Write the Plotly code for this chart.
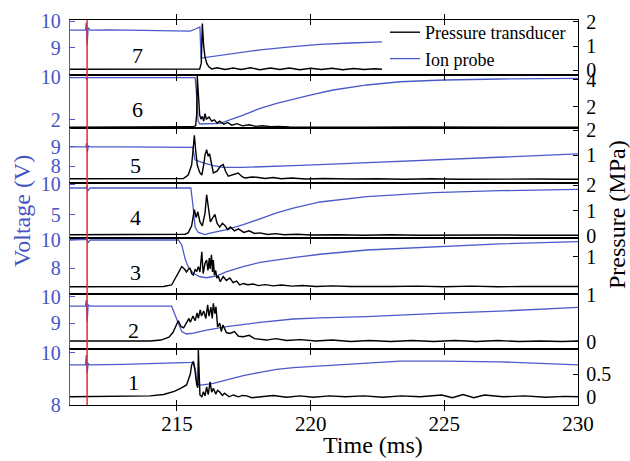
import plotly.graph_objects as go
from plotly.subplots import make_subplots

# ---------------- data ----------------
trigger_time = 211.64
panel_labels = ["7", "6", "5", "4", "3", "2", "1"]

# panel 7
t_v7 = [211.0, 211.58, 211.61, 211.64, 211.68, 211.75, 212.5, 213.5, 214.5, 215.3, 215.5, 215.67, 215.86, 215.9,
        215.97, 216.11, 216.86, 218.11, 219.34, 220.35, 221.5, 222.67]
v7 = [9.66, 9.66, 9.93, 9.1, 9.75, 9.66, 9.67, 9.66, 9.65, 9.62, 9.62, 9.69, 9.78, 8.6,
      8.61, 8.62, 8.74, 8.91, 9.03, 9.12, 9.17, 9.21]
t_p7 = [211.0, 212.0, 213.0, 214.0, 215.0, 215.85, 215.91, 215.95, 216.0, 216.05, 216.12, 216.2, 216.3, 216.5,
        216.8, 217.1, 217.4, 217.75, 218.1, 218.5, 218.85, 219.2, 219.6, 220.0, 220.4, 220.8, 221.2, 221.6,
        222.0, 222.4, 222.67]
p7 = [0.05, 0.05, 0.06, 0.05, 0.05, 0.06, 0.3, 1.93, 1.0, 0.55, 0.28, 0.14, 0.06, 0.11,
      0.04, 0.1, 0.04, 0.11, 0.03, 0.1, 0.04, 0.1, 0.03, 0.09, 0.04, 0.09, 0.03, 0.08,
      0.04, 0.07, 0.05]

# panel 6
t_v6 = [211.0, 211.6, 211.63, 211.67, 211.75, 213.0, 214.5, 215.68, 215.75, 215.79, 215.86, 216.05, 216.61,
        217.48, 218.11, 218.73, 219.35, 219.98, 220.84, 222.11, 223.34, 224.99, 227.08, 230.0]
v6 = [9.93, 9.93, 9.5, 9.95, 9.93, 9.93, 9.92, 9.92, 5.75, 1.81, 1.25, 1.25, 1.38,
      2.93, 4.19, 5.13, 5.93, 6.68, 7.62, 8.56, 9.17, 9.49, 9.68, 9.81]
t_p6 = [211.0, 213.0, 215.0, 215.6, 215.7, 215.74, 215.76, 215.8, 215.85, 215.9, 215.95, 216.0, 216.05, 216.1,
        216.2, 216.3, 216.4, 216.5, 216.6, 216.75, 216.9, 217.05, 217.25, 217.45, 217.7, 217.95, 218.2, 218.5,
        218.8, 219.2, 220.0, 222.0, 224.0, 226.0, 228.0, 230.0]
p6 = [0.5, 0.5, 0.51, 0.53, 0.62, 1.5, 4.3, 2.5, 1.4, 1.1, 1.3, 0.95, 1.5, 1.1,
      1.25, 0.95, 1.05, 0.8, 0.95, 0.72, 0.85, 0.65, 0.76, 0.6, 0.68, 0.56, 0.61, 0.53,
      0.56, 0.51, 0.52, 0.5, 0.51, 0.5, 0.51, 0.5]

# panel 5
t_v5 = [211.0, 211.59, 211.62, 211.65, 211.69, 211.75, 213.0, 214.5, 215.6, 215.67, 215.99, 216.36, 216.73,
        217.47, 218.1, 218.73, 219.35, 220.35, 222.1, 224.58, 227.08, 230.0]
v5 = [9.0, 9.0, 9.2, 8.75, 9.05, 9.0, 9.0, 8.99, 8.98, 8.34, 8.18, 8.04, 7.95,
      7.95, 7.97, 8.01, 8.04, 8.09, 8.19, 8.33, 8.47, 8.64]
t_p5 = [211.0, 213.0, 214.5, 215.0, 215.24, 215.42, 215.55, 215.61, 215.65, 215.7, 215.76, 215.85, 215.93,
        216.0, 216.05, 216.11, 216.17, 216.22, 216.3, 216.36, 216.5, 216.62, 216.73, 216.82, 216.92, 217.1,
        217.29, 217.45, 217.55, 217.8, 217.98, 218.3, 218.6, 218.9, 219.3, 219.8, 220.5, 221.5, 222.5, 223.5,
        224.5, 225.5, 226.5, 227.5, 228.5, 229.5, 230.0]
p5 = [0.05, 0.05, 0.05, 0.05, 0.06, 0.2, 0.6, 1.28, 1.79, 1.2, 0.6, 0.3, 0.2,
      0.6, 1.0, 1.21, 0.95, 1.05, 0.55, 0.28, 0.35, 0.55, 0.62, 0.35, 0.15, 0.2,
      0.28, 0.12, 0.08, 0.12, 0.11, 0.06, 0.1, 0.05, 0.08, 0.04, 0.06, 0.04, 0.05, 0.03,
      0.05, 0.03, 0.04, 0.03, 0.04, 0.03, 0.03]

# panel 4
t_v4 = [211.0, 211.6, 211.63, 211.67, 211.75, 213.0, 215.0, 215.52, 215.6, 215.68, 215.8, 216.05, 216.24,
        216.86, 217.48, 218.11, 218.73, 219.35, 220.35, 222.1, 224.59, 227.08, 230.0]
v4 = [9.39, 9.39, 9.7, 8.9, 9.39, 9.39, 9.39, 9.39, 6.5, 3.0, 2.15, 1.82, 2.06,
      2.6, 3.41, 4.39, 5.32, 6.13, 7.11, 7.97, 8.62, 8.95, 9.17]
t_p4 = [211.0, 213.0, 215.0, 215.3, 215.42, 215.55, 215.65, 215.72, 215.78, 215.86, 215.95, 216.05, 216.11,
        216.18, 216.25, 216.33, 216.42, 216.5, 216.6, 216.7, 216.8, 216.9, 217.0, 217.15, 217.3, 217.5,
        217.7, 217.9, 218.1, 218.4, 218.7, 219.0, 219.5, 220.0, 221.0, 222.0, 223.0, 224.0, 225.0, 226.0,
        227.0, 228.0, 229.0, 230.0]
p4 = [0.05, 0.05, 0.05, 0.07, 0.12, 0.4, 1.03, 0.72, 0.95, 0.55, 0.4, 0.9, 1.62,
      1.0, 0.55, 0.7, 0.85, 0.5, 0.35, 0.5, 0.4, 0.25, 0.35, 0.2, 0.28, 0.14,
      0.2, 0.1, 0.12, 0.06, 0.09, 0.05, 0.07, 0.04, 0.05, 0.03, 0.05, 0.03, 0.04, 0.03,
      0.04, 0.03, 0.04, 0.03]

# panel 3
t_v3 = [211.0, 211.6, 211.63, 211.67, 211.75, 213.0, 215.05, 215.18, 215.3, 215.42, 215.61, 215.86, 216.11,
        216.49, 216.86, 217.48, 218.11, 219.35, 220.35, 222.1, 224.59, 227.08, 230.0]
v3 = [10.0, 10.0, 10.05, 9.8, 10.0, 10.0, 10.0, 9.65, 8.7, 8.11, 7.64, 7.4, 7.33,
      7.47, 7.76, 8.11, 8.42, 8.75, 8.99, 9.29, 9.52, 9.72, 9.88]
t_p3 = [211.0, 213.0, 214.5, 214.8, 214.93, 215.05, 215.18, 215.28, 215.36, 215.43, 215.49, 215.55, 215.61,
        215.68, 215.74, 215.8, 215.86, 215.93, 215.98, 216.05, 216.11, 216.16, 216.21, 216.24, 216.29, 216.33,
        216.36, 216.4, 216.45, 216.49, 216.55, 216.62, 216.73, 216.85, 216.98, 217.1, 217.23, 217.35, 217.48,
        217.65, 217.85, 218.05, 218.3, 218.6, 218.9, 219.3, 219.7, 220.2, 220.8, 221.5, 222.2, 223.0, 224.0,
        225.0, 226.0, 227.0, 228.0, 229.0, 230.0]
p3 = [0.01, 0.01, 0.02, 0.07, 0.29, 0.51, 0.68, 0.6, 0.5, 0.6, 0.62, 0.45, 0.4,
      0.58, 0.52, 0.68, 0.5, 1.17, 0.45, 0.79, 0.9, 0.55, 0.96, 0.6, 1.07, 0.5,
      0.9, 0.4, 0.55, 0.3, 0.35, 0.18, 0.35, 0.22, 0.3, 0.15, 0.2, 0.07, 0.12,
      0.08, 0.1, 0.05, 0.08, 0.04, 0.07, 0.03, 0.05, 0.02, 0.04, 0.02, 0.03, 0.02, 0.03,
      0.01, 0.03, 0.01, 0.02, 0.01, 0.02]

# panel 2
t_v2 = [211.0, 211.58, 211.61, 211.64, 211.68, 211.75, 213.0, 214.8, 214.93, 215.05, 215.18, 215.36, 215.61,
        216.11, 216.86, 218.11, 219.35, 220.35, 222.1, 224.99, 227.08, 230.0]
v2 = [9.65, 9.65, 9.88, 9.06, 9.7, 9.65, 9.65, 9.65, 9.31, 8.99, 8.68, 8.59, 8.62,
      8.74, 8.87, 9.03, 9.16, 9.2, 9.25, 9.38, 9.46, 9.6]
t_p2 = [211.0, 213.0, 214.0, 214.4, 214.7, 214.85, 214.95, 215.05, 215.15, 215.25, 215.35, 215.45, 215.5,
        215.6, 215.68, 215.75, 215.8, 215.87, 215.92, 216.0, 216.08, 216.15, 216.2, 216.27, 216.32, 216.36,
        216.42, 216.46, 216.52, 216.6, 216.66, 216.72, 216.85, 216.98, 217.15, 217.3, 217.48, 217.7, 217.9,
        218.35, 218.7, 219.1, 219.6, 220.2, 220.8, 221.5, 222.2, 223.0, 223.8, 224.6, 225.4, 226.2, 227.0,
        227.8, 228.6, 229.4, 230.0]
p2 = [0.02, 0.02, 0.02, 0.04, 0.1, 0.2, 0.33, 0.45, 0.33, 0.3, 0.4, 0.5, 0.42,
      0.55, 0.45, 0.62, 0.5, 0.68, 0.55, 0.66, 0.5, 0.79, 0.55, 0.74, 0.5, 0.82,
      0.6, 0.75, 0.32, 0.4, 0.22, 0.36, 0.2, 0.18, 0.22, 0.12, 0.11, 0.14, 0.07,
      0.04, 0.07, 0.03, 0.05, 0.02, 0.04, 0.01, 0.03, 0.01, 0.03, 0.01, 0.03, 0.01, 0.03,
      0.01, 0.02, 0.01, 0.02]

# panel 1
t_v1 = [211.0, 211.58, 211.61, 211.64, 211.68, 211.75, 213.0, 214.5, 215.55, 215.62, 215.7, 215.74, 215.9,
        216.36, 216.86, 217.48, 218.11, 218.73, 219.35, 220.84, 222.1, 223.34, 224.99, 227.08, 230.0]
v1 = [9.53, 9.53, 9.91, 9.21, 9.58, 9.53, 9.55, 9.58, 9.63, 9.66, 9.3, 8.8, 8.76,
      8.83, 8.96, 9.12, 9.25, 9.36, 9.43, 9.53, 9.62, 9.68, 9.68, 9.65, 9.53]
t_p1 = [211.0, 213.0, 214.0, 214.5, 214.9, 215.15, 215.36, 215.5, 215.55, 215.61, 215.67, 215.74, 215.78,
        215.8, 215.83, 215.86, 215.93, 215.99, 216.05, 216.11, 216.17, 216.24, 216.3, 216.36, 216.45, 216.52,
        216.61, 216.7, 216.78, 216.86, 216.95, 217.11, 217.3, 217.45, 217.61, 217.8, 218.11, 218.6, 219.1,
        219.6, 220.1, 220.7, 221.3, 222.0, 222.7, 223.4, 224.1, 224.9, 225.3, 225.7, 226.1, 226.5, 227.2,
        228.0, 228.8, 229.5, 230.0]
p1 = [0.0, 0.01, 0.02, 0.05, 0.12, 0.19, 0.26, 0.5, 0.7, 0.77, 0.6, 0.27, 0.2,
      1.03, 0.3, 0.04, 0.0, 0.11, 0.02, 0.22, 0.05, 0.33, 0.1, 0.19, 0.06, 0.14,
      0.1, 0.03, 0.08, 0.05, 0.0, 0.04, 0.0, 0.03, 0.02, -0.02, 0.0, 0.03, -0.01,
      0.02, -0.01, 0.02, 0.0, 0.02, -0.01, 0.02, 0.0, 0.04, -0.02, 0.05, -0.02, 0.04, 0.0,
      0.02, -0.01, 0.01, 0.0]

# ---------------- per-panel axis settings ----------------
v_ranges = [[7.96, 10.04], [0.5, 10.43], [7.15, 9.97], [1.25, 10.2], [6.18, 10.14], [8.02, 10.11], [8.0, 10.14]]
v_ticks = [[9, 10], [2, 10], [8, 9], [5, 10], [8, 10], [9, 10], [8, 10]]
p_ranges = [[-0.19, 2.08], [0.44, 4.37], [-0.12, 2.08], [-0.08, 2.08], [-0.23, 1.63], [-0.15, 1.02], [-0.18, 1.05]]
p_ticks = [[0, 1, 2], [2, 4], [1, 2], [0, 1, 2], [1], [0, 1], [0, 0.5]]

t_volt = [t_v7, t_v6, t_v5, t_v4, t_v3, t_v2, t_v1]
volts = [v7, v6, v5, v4, v3, v2, v1]
t_pres = [t_p7, t_p6, t_p5, t_p4, t_p3, t_p2, t_p1]
press = [p7, p6, p5, p4, p3, p2, p1]

BLUE = "#4b5ac8"
BLUE_TXT = "#4655c2"
RED = "#f02828"
FONT = "Liberation Serif"

W, H = 630, 461
L, R, T, B = 70, 578, 20, 405
bounds = [20, 75, 128, 183, 238, 294, 349, 405]


def pxx(px):
    return (px - L) / (R - L)


def pxy(py):
    return (B - py) / (B - T)


fig = make_subplots(rows=7, cols=1, shared_xaxes=True, vertical_spacing=0,
                    specs=[[{"secondary_y": True}] for _ in range(7)])

for i in range(7):
    r = i + 1
    fig.add_trace(go.Scatter(x=t_volt[i], y=volts[i], mode="lines", line=dict(color=BLUE, width=1.3),
                             name="Ion probe", showlegend=(i == 0), legendrank=2),
                  row=r, col=1, secondary_y=False)
    fig.add_trace(go.Scatter(x=t_pres[i], y=press[i], mode="lines", line=dict(color="black", width=1.4),
                             name="Pressure transducer", showlegend=(i == 0), legendrank=1),
                  row=r, col=1, secondary_y=True)
    dom = [pxy(bounds[i + 1]), pxy(bounds[i])]
    fig.update_yaxes(row=r, col=1, secondary_y=False, domain=dom, range=v_ranges[i],
                     tickvals=v_ticks[i], ticktext=[str(v) for v in v_ticks[i]],
                     showline=True, linecolor=BLUE, linewidth=1.3, ticks="inside", ticklen=5,
                     tickcolor=BLUE, tickfont=dict(family=FONT, size=20, color=BLUE_TXT),
                     showgrid=False, zeroline=False, ticklabelstandoff=4, automargin=False)
    fig.update_yaxes(row=r, col=1, secondary_y=True, range=p_ranges[i],
                     tickvals=p_ticks[i], ticktext=[str(v) for v in p_ticks[i]],
                     showline=True, linecolor="black", linewidth=1.3, ticks="inside", ticklen=5,
                     tickcolor="black", tickfont=dict(family=FONT, size=20, color="black"),
                     showgrid=False, zeroline=False, ticklabelstandoff=3, automargin=False)
    fig.update_xaxes(row=r, col=1, domain=[0, 1], range=[211, 230], tickvals=[215, 220, 225, 230],
                     showline=True, linecolor="black", linewidth=1.3, mirror="allticks",
                     ticks="inside", ticklen=5, tickcolor="black", showgrid=False, zeroline=False,
                     tickfont=dict(family=FONT, size=21, color="black"),
                     showticklabels=(r == 7), automargin=False)

# trigger line
fig.add_shape(type="line", xref="x7", yref="paper", x0=trigger_time, x1=trigger_time, y0=0, y1=1,
              line=dict(color=RED, width=1.5))

# panel numbers
num_pos = [(137, 55), (137, 110), (135, 165), (135, 218), (135, 272), (133, 330), (133, 382)]
for lab, (px, py) in zip(panel_labels, num_pos):
    fig.add_annotation(x=pxx(px), y=pxy(py), xref="paper", yref="paper", text=lab, showarrow=False,
                       font=dict(family=FONT, size=22, color="black"), xanchor="center", yanchor="middle")

fig.add_annotation(x=pxx(22), y=pxy(211), xref="paper", yref="paper", text="Voltage (V)", textangle=-90,
                   showarrow=False, font=dict(family=FONT, size=24, color=BLUE_TXT),
                   xanchor="center", yanchor="middle")
fig.add_annotation(x=pxx(617), y=pxy(215), xref="paper", yref="paper", text="Pressure (MPa)", textangle=-90,
                   showarrow=False, font=dict(family=FONT, size=24, color="black"),
                   xanchor="center", yanchor="middle")
fig.add_annotation(x=pxx(373), y=pxy(445), xref="paper", yref="paper", text="Time (ms)",
                   showarrow=False, font=dict(family=FONT, size=24, color="black"),
                   xanchor="center", yanchor="middle")

fig.update_layout(
    width=W, height=H,
    margin=dict(l=L, r=W - R, t=T, b=H - B),
    paper_bgcolor="white", plot_bgcolor="white",
    font=dict(family=FONT, size=20, color="black"),
    showlegend=True,
    legend=dict(x=pxx(385), y=pxy(14), xanchor="left", yanchor="top", bgcolor="rgba(0,0,0,0)",
                font=dict(family=FONT, size=18, color="black"), borderwidth=0, tracegroupgap=0),
)

fig.write_html("out.html")
